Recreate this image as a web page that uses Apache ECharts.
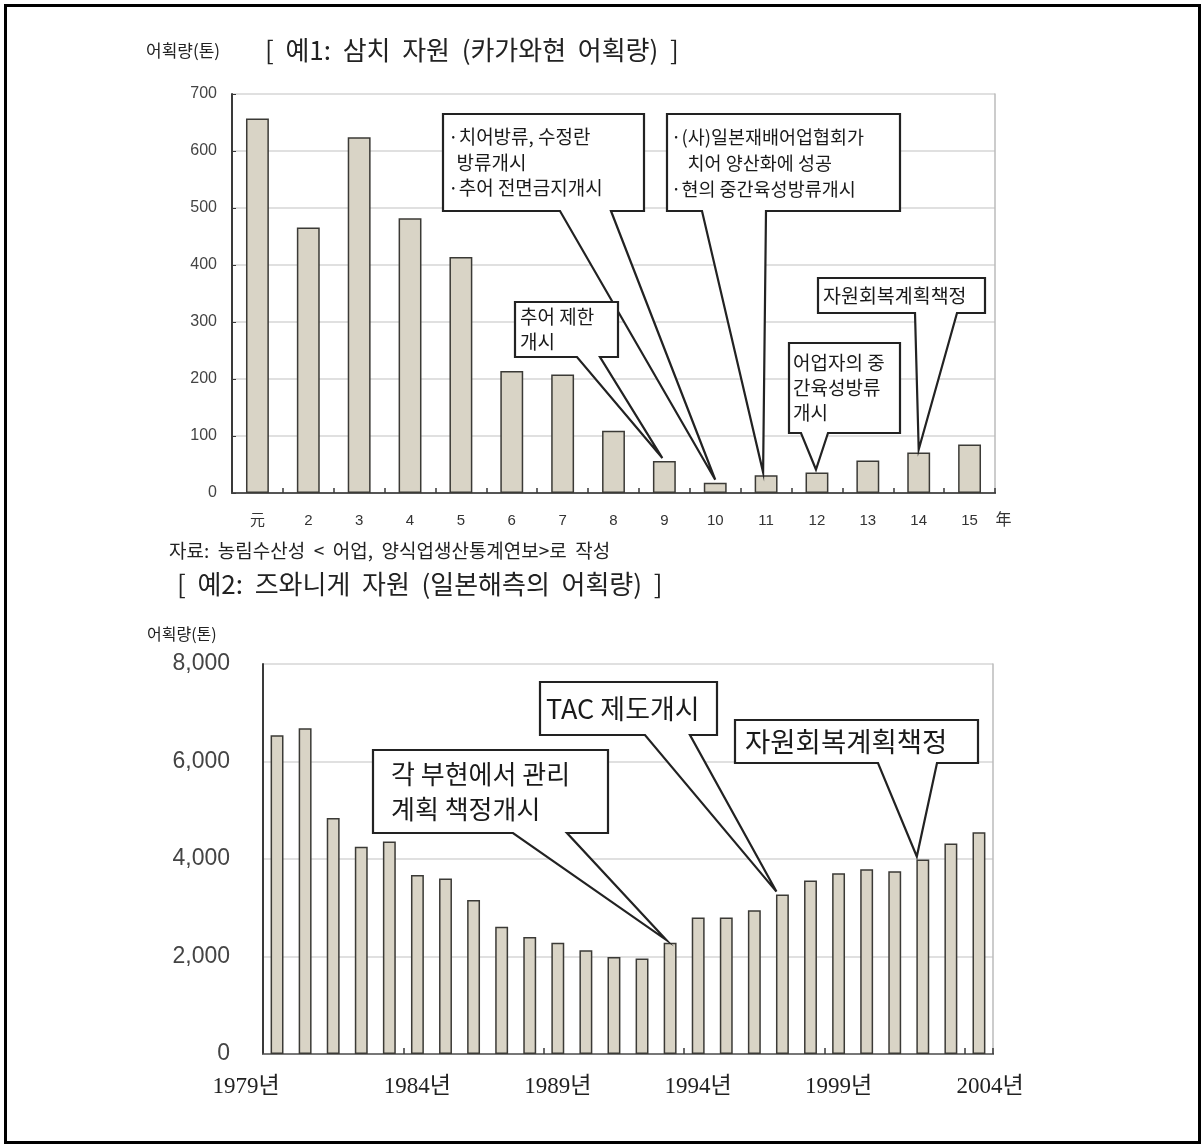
<!DOCTYPE html>
<html><head><meta charset="utf-8">
<script src="https://cdn.jsdelivr.net/npm/echarts@6/dist/echarts.min.js"></script>
<style>html,body{margin:0;padding:0;background:#fff}#c{width:1202px;height:1145px}</style>
</head><body><div id="c"></div>
<script>
// ---- data: example 1 (삼치, 카가와현 어획량, 톤) ----
const topCategories = ['元','2','3','4','5','6','7','8','9','10','11','12','13','14','15'];
const topValues = [657, 466, 624, 482, 414, 214, 208, 109, 56, 18, 31, 36, 57, 71, 85];
const topYTicks = [0, 100, 200, 300, 400, 500, 600, 700];

// ---- data: example 2 (즈와니게, 일본해측 어획량, 톤) ----
const bottomCategories = ['1979','1980','1981','1982','1983','1984','1985','1986','1987','1988','1989','1990','1991','1992','1993','1994','1995','1996','1997','1998','1999','2000','2001','2002','2003','2004'];
const bottomValues = [6540, 6680, 4840, 4250, 4360, 3670, 3600, 3160, 2610, 2400, 2280, 2130, 1990, 1960, 2280, 2800, 2800, 2950, 3270, 3560, 3710, 3790, 3750, 3990, 4320, 4550];
const bottomLabeledYears = ['1979','1984','1989','1994','1999','2004'];
const bottomYTicks = [0, 2000, 4000, 6000, 8000];

// ---- texts ----
const title1 = '[  예1:  삼치  자원  (카가와현  어획량)  ]';
const title2 = '[  예2:  즈와니게  자원  (일본해측의  어획량)  ]';
const unitLabel = '어획량(톤)';
const sourceText = '자료:  농림수산성  <  어업,  양식업생산통계연보>로  작성';
const yearUnit = '年';

// annotation callouts (target = category index of the bar pointed to)
const topCallouts = [
  {lines:['·치어방류, 수정란', '  방류개시', '·추어 전면금지개시'], target: 9},
  {lines:['·(사)일본재배어업협회가', '    치어 양산화에 성공', '·현의 중간육성방류개시'], target: 10},
  {lines:['추어 제한', '개시'], target: 8},
  {lines:['어업자의 중', '간육성방류', '개시'], target: 11},
  {lines:['자원회복계획책정'], target: 13}
];
const bottomCallouts = [
  {lines:['각 부현에서 관리', '계획 책정개시'], target: 14},
  {lines:['TAC 제도개시'], target: 18},
  {lines:['자원회복계획책정'], target: 23}
];
// callout box layout (pixels): box [x1,y1,x2,y2], pointer base xs, apex x offset, font
const topCalloutLayout = [
  {box:[443,114,644,211], base:[560,611], dx:0, fs:19, lh:25.5, pad:5},
  {box:[667,114,900,211], base:[702,766], dx:-3, fs:18.5, lh:26, pad:4},
  {box:[515,302,618,357], base:[577,600], dx:-2, fs:19, lh:25, pad:5},
  {box:[789,343,900,433], base:[801,828], dx:-1, fs:19, lh:25, pad:4},
  {box:[818,278,985,313], base:[915,957], dx:0, fs:19.5, lh:24, pad:5}
];
const bottomCalloutLayout = [
  {box:[373,750,608,833], base:[513,567], dx:-4, fs:26, lh:35, pad:18},
  {box:[540,682,717,735], base:[645,690], dx:-6, fs:27, lh:32, pad:6},
  {box:[735,720,978,763], base:[878,937], dx:-6, fs:27.5, lh:32, pad:10}
];

const CJK = "'Noto Sans CJK KR', sans-serif";
const SANS = "'Liberation Sans', 'Noto Sans CJK KR', sans-serif";
const SERIF = "'Liberation Serif', 'Noto Sans CJK KR', serif";
const barFill = '#d9d4c6';
const barEdge = '#3b3a36';
const axisDark = '#3a3a3a';

const chart = echarts.init(document.getElementById('c'), null, {renderer: 'canvas'});

const option = {
  backgroundColor: '#ffffff',
  animation: false,
  title: [
    {text: title1, left: 260, top: 32, textStyle: {fontFamily: CJK, fontSize: 26, fontWeight: 'normal', color: '#222'}},
    {text: unitLabel, left: 141, top: 37, textStyle: {fontFamily: CJK, fontSize: 17, fontWeight: 'normal', color: '#222'}},
    {text: sourceText, left: 164, top: 536, textStyle: {fontFamily: CJK, fontSize: 19, fontWeight: 'normal', color: '#222'}},
    {text: title2, left: 172, top: 566, textStyle: {fontFamily: CJK, fontSize: 26, fontWeight: 'normal', color: '#222'}},
    {text: unitLabel, left: 142, top: 621, textStyle: {fontFamily: CJK, fontSize: 16, fontWeight: 'normal', color: '#222'}}
  ],
  grid: [
    {left: 232, top: 94, width: 763, height: 399, containLabel: false},
    {left: 263, top: 664, width: 730, height: 390, containLabel: false}
  ],
  xAxis: [
    {
      type: 'category', gridIndex: 0, data: topCategories, boundaryGap: true,
      axisLine: {lineStyle: {color: axisDark, width: 2}},
      axisTick: {show: true, inside: true, length: 5, lineStyle: {color: axisDark, width: 1.5}},
      axisLabel: {fontFamily: SANS, fontSize: 15, color: '#333', margin: 20},
      splitLine: {show: false}
    },
    {
      type: 'category', gridIndex: 0, data: topCategories, position: 'top',
      axisLine: {lineStyle: {color: '#555', width: 2}}, axisTick: {show: false}, axisLabel: {show: false}
    },
    {
      type: 'category', gridIndex: 1, data: bottomCategories, boundaryGap: true,
      axisLine: {lineStyle: {color: axisDark, width: 2}},
      axisTick: {show: true, inside: true, length: 6, lineStyle: {color: axisDark, width: 1.5}},
      axisLabel: {
        fontFamily: SERIF, fontSize: 23, color: '#222', margin: 21,
        interval: function (i, v) { return bottomLabeledYears.indexOf(v) >= 0; },
        formatter: function (v, i) {
          if (i === 0) return '{first|' + v + '년}';
          if (i === bottomCategories.length - 1) return '{last|' + v + '년}';
          return v + '년';
        },
        rich: {
          first: {fontFamily: SERIF, fontSize: 23, color: '#222', padding: [0, 62, 0, 0]},
          last: {fontFamily: SERIF, fontSize: 23, color: '#222', padding: [0, 0, 0, 22]}
        }
      },
      splitLine: {show: false}
    },
    {
      type: 'category', gridIndex: 1, data: bottomCategories, position: 'top',
      axisLine: {lineStyle: {color: '#777', width: 2}}, axisTick: {show: false}, axisLabel: {show: false}
    }
  ],
  yAxis: [
    {
      type: 'value', gridIndex: 0, min: topYTicks[0], max: topYTicks[topYTicks.length - 1], interval: topYTicks[1] - topYTicks[0],
      axisLine: {show: true, lineStyle: {color: axisDark, width: 2}},
      axisTick: {show: true, inside: true, length: 4, lineStyle: {color: axisDark}},
      axisLabel: {fontFamily: SANS, fontSize: 16, color: '#444', margin: 15},
      splitLine: {show: true, lineStyle: {color: '#d6d6d6', width: 1.5}}
    },
    {
      type: 'value', gridIndex: 0, position: 'right', min: 0, max: 700,
      axisLine: {show: true, lineStyle: {color: '#bbb', width: 1.5}}, axisTick: {show: false}, axisLabel: {show: false}, splitLine: {show: false}
    },
    {
      type: 'value', gridIndex: 1, min: bottomYTicks[0], max: bottomYTicks[bottomYTicks.length - 1], interval: bottomYTicks[1] - bottomYTicks[0],
      axisLine: {show: true, lineStyle: {color: axisDark, width: 2}},
      axisTick: {show: false},
      axisLabel: {fontFamily: SANS, fontSize: 23, color: '#444', margin: 33,
        formatter: function (v) { return v.toLocaleString('en-US'); }},
      splitLine: {show: true, lineStyle: {color: '#d6d6d6', width: 1.5}}
    },
    {
      type: 'value', gridIndex: 1, position: 'right', min: 0, max: 8000,
      axisLine: {show: true, lineStyle: {color: '#bbb', width: 1.5}}, axisTick: {show: false}, axisLabel: {show: false}, splitLine: {show: false}
    }
  ],
  series: [
    {
      type: 'bar', xAxisIndex: 0, yAxisIndex: 0, data: topValues, barWidth: '45%',
      itemStyle: {color: barFill, borderColor: barEdge, borderWidth: 1.5}, z: 2
    },
    {
      type: 'bar', xAxisIndex: 2, yAxisIndex: 2, data: bottomValues, barWidth: '46%',
      itemStyle: {color: barFill, borderColor: barEdge, borderWidth: 1.5}, z: 2
    }
  ]
};
chart.setOption(option);

function buildCallouts(callouts, layouts, xIdx, yIdx, cats, vals) {
  const els = [];
  callouts.forEach(function (c, k) {
    const L = layouts[k];
    const p = chart.convertToPixel({xAxisIndex: xIdx, yAxisIndex: yIdx}, [cats[c.target], vals[c.target]]);
    const ax = p[0] + L.dx, ay = p[1] - 3;
    const x1 = L.box[0], y1 = L.box[1], x2 = L.box[2], y2 = L.box[3];
    els.push({
      type: 'polygon', z: 50,
      shape: {points: [[x1, y1], [x2, y1], [x2, y2], [L.base[1], y2], [ax, ay], [L.base[0], y2], [x1, y2]]},
      style: {fill: '#ffffff', stroke: '#222', lineWidth: 2.2, lineJoin: 'miter'}
    });
    const n = c.lines.length;
    const cy = (y1 + y2) / 2;
    els.push({
      type: 'text', z: 51, left: x1 + L.pad, top: cy - n * L.lh / 2,
      style: {text: c.lines.join('\n'), fontFamily: CJK, fontSize: L.fs, lineHeight: L.lh, fill: '#1a1a1a'}
    });
  });
  return els;
}

const topLast = chart.convertToPixel({xAxisIndex: 0, yAxisIndex: 0}, [topCategories[topCategories.length - 1], 0]);
const graphics = [
  {type: 'rect', z: 100, shape: {x: 5.5, y: 5.5, width: 1194, height: 1137}, style: {fill: 'none', stroke: '#000', lineWidth: 3}},
  {type: 'text', z: 60, left: topLast[0] + 26, top: 511, style: {text: yearUnit, fontFamily: CJK, fontSize: 16, fill: '#333'}}
].concat(
  buildCallouts(topCallouts, topCalloutLayout, 0, 0, topCategories, topValues),
  buildCallouts(bottomCallouts, bottomCalloutLayout, 2, 2, bottomCategories, bottomValues)
);
chart.setOption({graphic: graphics});
</script>
</body></html>
